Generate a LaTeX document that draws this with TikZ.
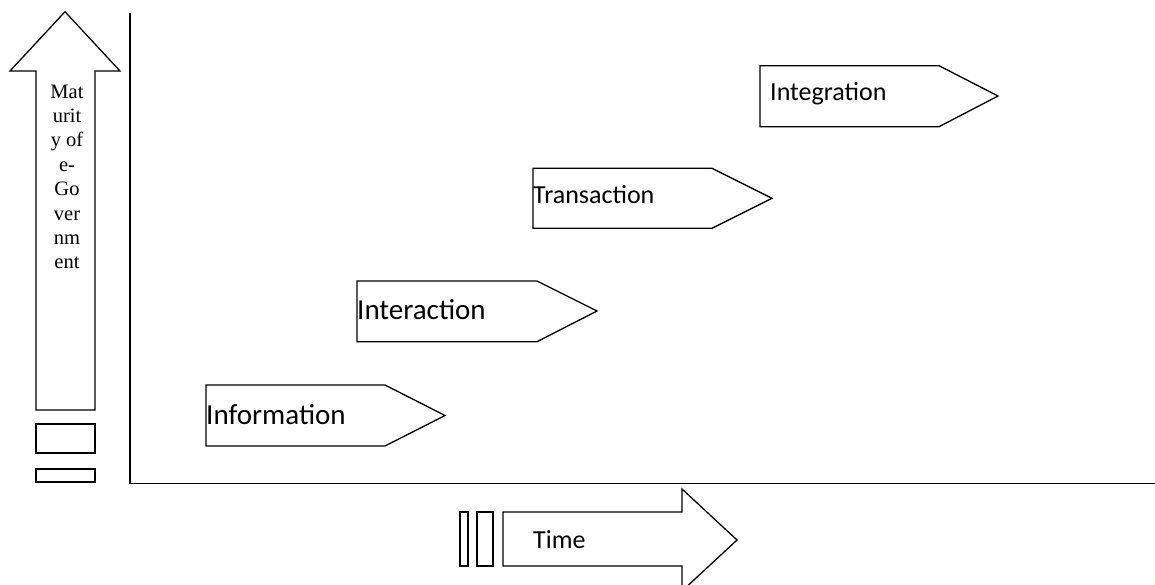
\documentclass[tikz,border=0pt]{standalone}
\usepackage{fontspec}
\setmainfont{Liberation Serif}
\newfontfamily\calibri{Carlito}

\begin{document}
\begin{tikzpicture}[x=1pt, y=-1pt, blk/.style={draw, line width=1.3pt, line join=miter},
		lbl/.style={anchor=base west, inner sep=0pt, font=\calibri\fontsize{29}{34}\selectfont},
		lbls/.style={lbl, font=\calibri\fontsize{26}{31}\selectfont},
		mlbl/.style={anchor=base, inner sep=0pt, font=\fontsize{20.5}{24}\selectfont}]
		\useasboundingbox (0,0) rectangle (1155,584);

		% axes
		\coordinate (ytop) at (130,13);
		\coordinate (O) at (130,483.3);
		\coordinate (xend) at (1155,483.3);
		\draw[blk] (ytop) -- (O) -- (xend);

		% maturity arrow
		\draw[blk] (36,410) -- (36,71) -- (10,71) -- (65,11.7) -- (120,71) -- (95,71) -- (95,410) -- cycle;
		\draw[blk] (36,424) rectangle (95,453);
		\draw[blk] (36,469) rectangle (95,482);
		\foreach \w [count=\i] in {Mat,urit,y of,e-,Go,ver,nm,ent}
			\node[mlbl] (m\i) at (67,{98+24.4*(\i-1)}) {\w};

		% stages
		\draw[blk] (206,385) -- (385,385) -- (445,415.5) -- (385,446) -- (206,446) -- cycle;
		\node[lbl] (info) at (206,424) {Information};
		\draw[blk] (357,281) -- (537,281) -- (597,311) -- (537,341.7) -- (357,341.7) -- cycle;
		\node[lbl] (inter) at (357,319.3) {Interaction};
		\draw[blk] (533,168.3) -- (712,168.3) -- (772,198.3) -- (712,228.3) -- (533,228.3) -- cycle;
		\node[lbls] (trans) at (533,203.3) {Transaction};
		\draw[blk] (760,65.7) -- (939,65.7) -- (998,96) -- (939,126.7) -- (760,126.7) -- cycle;
		\node[lbls] (integ) at (770,100.7) {Integration};

		% time
		\draw[blk] (460,512) rectangle (468,566);
		\draw[blk] (477,512) rectangle (493,566);
		\draw[blk] (503,512) -- (682,512) -- (682,489) -- (737,540) -- (682,591) -- (682,566) -- (503,566) -- cycle;
		\node[lbls] (time) at (533,548) {Time};
	\end{tikzpicture}
\end{document}
